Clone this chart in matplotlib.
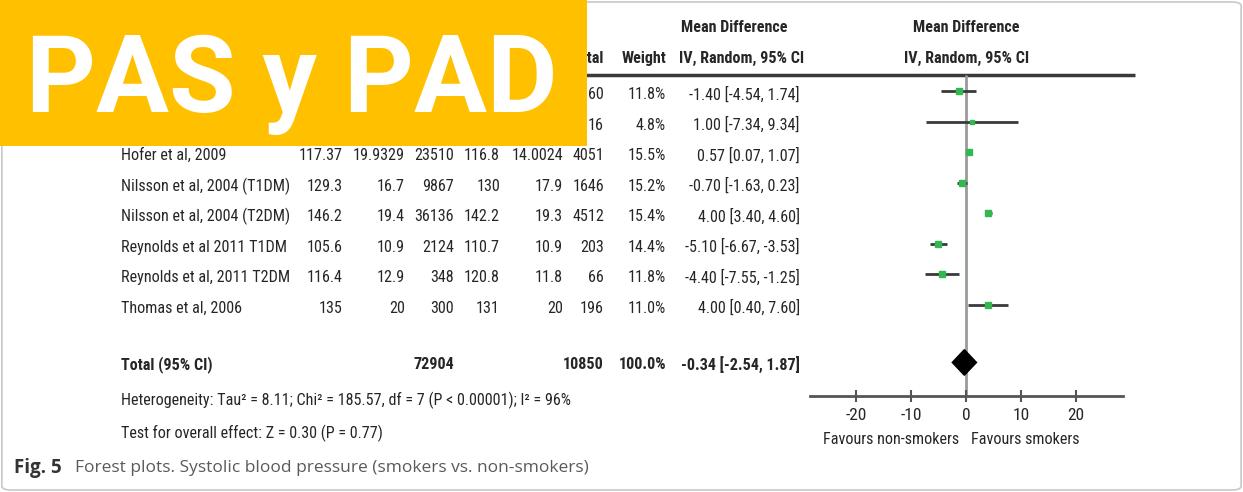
import numpy as np
import matplotlib
matplotlib.use("Agg")
import matplotlib.pyplot as plt
from matplotlib import font_manager as fm
from matplotlib.patches import Rectangle, FancyBboxPatch

# Study rows (names and smoker/non-smoker columns of the first two rows sit under the banner)
study = ["", "", "Hofer et al, 2009", "Nilsson et al, 2004 (T1DM)", "Nilsson et al, 2004 (T2DM)",
         "Reynolds et al 2011 T1DM", "Reynolds et al, 2011 T2DM", "Thomas et al, 2006"]
smk_mean = ["", "", "117.37", "129.3", "146.2", "105.6", "116.4", "135"]
smk_sd = ["", "", "19.9329", "16.7", "19.4", "10.9", "12.9", "20"]
smk_n = ["", "", "23510", "9867", "36136", "2124", "348", "300"]
non_mean = ["", "", "116.8", "130", "142.2", "110.7", "120.8", "131"]
non_sd = ["", "", "14.0024", "17.9", "19.3", "10.9", "11.8", "20"]
non_n = [160, 16, 4051, 1646, 4512, 203, 66, 196]
weight = [11.8, 4.8, 15.5, 15.2, 15.4, 14.4, 11.8, 11.0]
md = [-1.40, 1.00, 0.57, -0.70, 4.00, -5.10, -4.40, 4.00]
ci_lo = [-4.54, -7.34, 0.07, -1.63, 3.40, -6.67, -7.55, 0.40]
ci_hi = [1.74, 9.34, 1.07, 0.23, 4.60, -3.53, -1.25, 7.60]

# Pooled estimate
total_smk_n = 72904
total_non_n = 10850
total_weight = 100.0
total_md, total_lo, total_hi = -0.34, -2.54, 1.87

xticks = [-20, -10, 0, 10, 20]
het_text = "Heterogeneity: Tau² = 8.11; Chi² = 185.57, df = 7 (P < 0.00001); I² = 96%"
test_text = "Test for overall effect: Z = 0.30 (P = 0.77)"

W, H = 1243, 492
row0_px, row_px = 91, 30.5
y_top = -row0_px / row_px
y_bot = (H - row0_px) / row_px
txt_c = "#262626"


def pick_narrow():
    # first condensed face that is actually installed
    have = {(f.name, f.stretch) for f in fm.fontManager.ttflist}
    names = {f.name for f in fm.fontManager.ttflist}
    for name, stretch in [("Liberation Sans Narrow", "normal"), ("Roboto Condensed", "normal"),
                          ("Open Sans Condensed", "normal"), ("Roboto", "condensed"),
                          ("DejaVu Sans", "condensed"), ("Liberation Sans", "normal")]:
        if (name, stretch) in have or (stretch == "normal" and name in names):
            return name, stretch
    return "DejaVu Sans", "normal"


fig = plt.figure(figsize=(W / 100, H / 100), dpi=100)

# table axes: x in pixels, y in rows
ax = fig.add_axes([0, 0, 1, 1])
ax.set_xlim(0, W)
ax.set_ylim(y_bot, y_top)
ax.axis("off")

# size the table font so a study label spans roughly its width in the table
fam, st = pick_narrow()
probe = ax.text(0, 0, "Nilsson et al, 2004 (T1DM)", fontfamily=fam, fontstretch=st, fontsize=10)
pw = probe.get_window_extent(renderer=fig.canvas.get_renderer()).width
probe.remove()
fs = min(13, 10 * 156 / pw * 1.08)
kw = dict(fontfamily=fam, fontstretch=st, fontsize=fs, color=txt_c)
kwb = dict(kw, fontweight="bold")

# forest axes: x in mean difference, same row scale
fax = fig.add_axes([810 / W, 0, 313 / W, 1])
fax.set_xlim(-28.4, 28.5)
fax.set_ylim(y_bot, y_top)
fax.patch.set_alpha(0)
for s in ["left", "right", "top"]:
    fax.spines[s].set_visible(False)
fax.yaxis.set_visible(False)

rows = np.arange(len(md))
total_row = 8.9
axis_row = 10.0
head_line = -0.52
dy = 0.12

fax.spines["bottom"].set_position(("data", axis_row))
fax.spines["bottom"].set_color("#555555")
fax.spines["bottom"].set_linewidth(2)
fax.set_xticks(xticks)
fax.set_xticklabels([str(t) for t in xticks], fontfamily=fam, fontstretch=st, fontsize=fs * 1.08, color=txt_c)
fax.tick_params(axis="x", direction="inout", length=9, width=1.5, color="#555555", pad=4)

# line of no effect
fax.vlines(0, head_line, axis_row, color="#9a9a9a", lw=2, zorder=1)

# study CIs and point estimates
for r, m, lo, hi, w in zip(rows, md, ci_lo, ci_hi, weight):
    fax.hlines(r, lo, hi, color="#3a3a3a", lw=2, zorder=2)
    fax.plot(m, r, marker="s", ms=1.15 * np.sqrt(w), color="#33b851", mec="#33b851", zorder=3)

# pooled diamond
h = 0.42
fax.fill([total_lo, total_md, total_hi, total_md],
         [total_row, total_row - h, total_row, total_row + h], color="black", zorder=3)

fax.text(-1.3, 11.44, "Favours non-smokers", ha="right", va="center", **kw)
fax.text(0.9, 11.44, "Favours smokers", ha="left", va="center", **kw)

fax.text(0, -2.07, "Mean Difference", ha="center", va="center", **kwb)
fax.text(0, -1.08, "IV, Random, 95% CI", ha="center", va="center", **kwb)

# header of the table
ax.hlines(head_line, 118, 1135, color="#3a3a3a", lw=2.5)
ax.text(604, -1.08, "Total", ha="right", va="center", **kwb)
ax.text(666, -1.08, "Weight", ha="right", va="center", **kwb)
ax.text(681, -2.07, "Mean Difference", ha="left", va="center", **kwb)
ax.text(679, -1.08, "IV, Random, 95% CI", ha="left", va="center", **kwb)

# table body
col_right = [343, 405, 454, 500, 563, 604, 666, 800]
for i, r in enumerate(rows):
    y = r + dy
    ax.text(121, y, study[i], ha="left", va="center", **kw)
    cells = [smk_mean[i], smk_sd[i], smk_n[i], non_mean[i], non_sd[i], str(non_n[i]),
             f"{weight[i]:.1f}%", f"{md[i]:.2f} [{ci_lo[i]:.2f}, {ci_hi[i]:.2f}]"]
    for x, c in zip(col_right, cells):
        ax.text(x, y, c, ha="right", va="center", **kw)

ty = total_row + dy - 0.05
ax.text(121, ty, "Total (95% CI)", ha="left", va="center", **kwb)
ax.text(454, ty, str(total_smk_n), ha="right", va="center", **kwb)
ax.text(604, ty, str(total_non_n), ha="right", va="center", **kwb)
ax.text(666, ty, f"{total_weight:.1f}%", ha="right", va="center", **kwb)
ax.text(800, ty, f"{total_md:.2f} [{total_lo:.2f}, {total_hi:.2f}]", ha="right", va="center", **kwb)

ax.text(121, 10.15, het_text, ha="left", va="center", **kw)
ax.text(121, 11.22, test_text, ha="left", va="center", **kw)

# caption
ax.text(14, 12.35, "Fig. 5", ha="left", va="center", fontfamily="Open Sans", fontsize=13.5,
        color="#333333", fontweight="bold")
ax.text(75, 12.35, "Forest plots. Systolic blood pressure (smokers vs. non-smokers)", ha="left", va="center",
        fontfamily="Open Sans", fontsize=12.5, color="#5a5a5a")

# outer frame
fig.patches.append(FancyBboxPatch((0.0015, 0.004), 0.997, 0.992, boxstyle="round,pad=0,rounding_size=0.008",
                                  transform=fig.transFigure, fc="none", ec="#c8c8c8", lw=1.2))

# banner
fig.patches.append(Rectangle((0, 1 - 146 / H), 587 / W, 146 / H, transform=fig.transFigure,
                             fc="#ffc000", ec="none", zorder=10))
fig.text(26 / W, 1 - 112 / H, "PAS y PAD", ha="left", va="baseline", fontfamily="Roboto",
         fontweight="bold", fontsize=78, color="white", zorder=11)

fig.savefig("out.png", dpi=100)
